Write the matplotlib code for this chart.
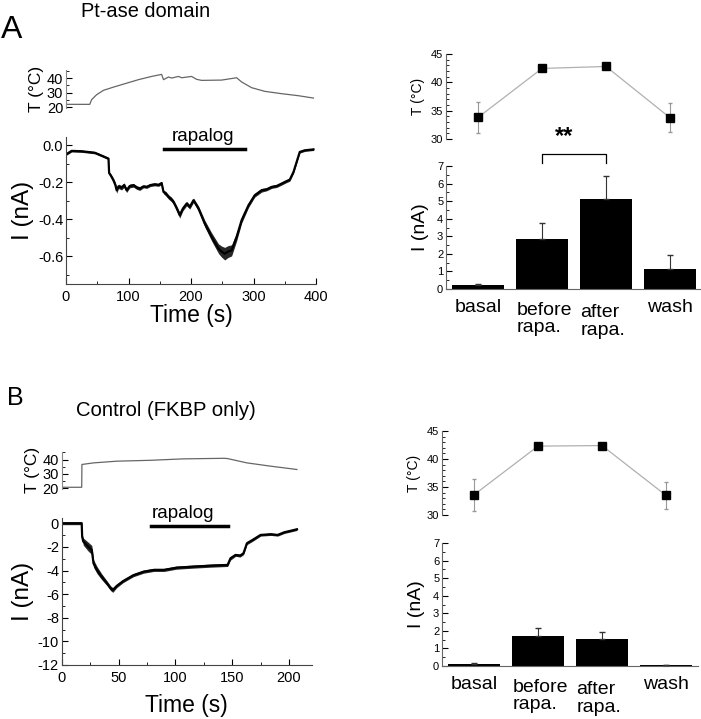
import matplotlib
matplotlib.use("Agg")
import matplotlib.pyplot as plt
from matplotlib.ticker import MultipleLocator, FormatStrFormatter
import numpy as np

plt.rcParams['font.family'] = ['Liberation Sans', 'DejaVu Sans']
plt.rcParams['axes.unicode_minus'] = False

# ---------------- data ----------------
# Panel A traces
tA_T = [0, 38, 41, 49, 60, 76, 94, 116, 137, 153, 156, 164, 169, 180, 185, 201, 209, 217, 249, 273, 281, 297, 318, 345, 372, 396]
TA = [22.0, 22.0, 25.2, 28.6, 31.6, 33.8, 36.1, 38.9, 41.1, 42.5, 38.9, 40.7, 40.0, 41.1, 40.2, 41.1, 39.1, 38.4, 38.6, 40.2, 37.3, 33.4, 30.9, 29.3, 27.9, 26.3]

tA_I = [0, 9, 25, 46, 60, 68, 69, 72, 76, 79, 81, 84, 89, 93, 97, 102, 108, 113, 118, 124, 129, 135, 142, 148, 153, 156, 160, 164, 168, 172, 177, 182, 187, 193, 198, 204, 212, 222, 233, 244, 249, 254, 259, 265, 273, 281, 292, 302, 313, 321, 329, 337, 345, 352, 358, 364, 369, 374, 382, 396]
IA = [-0.049, -0.030, -0.032, -0.040, -0.060, -0.072, -0.150, -0.165, -0.190, -0.215, -0.243, -0.222, -0.229, -0.215, -0.243, -0.220, -0.216, -0.228, -0.234, -0.222, -0.225, -0.215, -0.211, -0.214, -0.204, -0.252, -0.262, -0.279, -0.290, -0.306, -0.340, -0.378, -0.342, -0.315, -0.333, -0.297, -0.342, -0.423, -0.495, -0.559, -0.575, -0.586, -0.575, -0.568, -0.495, -0.405, -0.324, -0.270, -0.243, -0.238, -0.225, -0.220, -0.207, -0.195, -0.186, -0.144, -0.090, -0.036, -0.027, -0.022]
IA_noise = [0.006, 0.006, 0.006, 0.006, 0.006, 0.006, 0.008, 0.010, 0.012, 0.014, 0.016, 0.012, 0.012, 0.012, 0.012, 0.010, 0.010, 0.010, 0.010, 0.008, 0.008, 0.008, 0.008, 0.008, 0.008, 0.010, 0.012, 0.012, 0.012, 0.012, 0.014, 0.016, 0.012, 0.012, 0.012, 0.012, 0.014, 0.018, 0.022, 0.026, 0.030, 0.034, 0.032, 0.030, 0.022, 0.016, 0.012, 0.010, 0.010, 0.008, 0.008, 0.008, 0.008, 0.008, 0.008, 0.008, 0.008, 0.006, 0.006, 0.006]

# Panel B traces
tB_T = [0, 17.6, 17.8, 28, 48.5, 78, 107, 143, 146, 163, 184, 207]
TB = [20.7, 20.7, 36.6, 37.7, 38.9, 39.5, 40.5, 40.9, 40.7, 37.7, 35.4, 33.1]

tB_I = [0, 17.6, 18, 19, 23.5, 26.5, 28, 31, 35, 40, 43, 45, 48.5, 54, 63, 72, 81, 90, 101, 116, 131, 146, 148.5, 153, 157, 160, 163, 168, 175, 184, 190, 196, 201, 207]
IB = [0, 0, -1.13, -1.55, -2.0, -2.26, -3.4, -3.95, -4.5, -5.1, -5.5, -5.65, -5.3, -4.9, -4.4, -4.1, -3.95, -3.95, -3.76, -3.67, -3.59, -3.53, -2.97, -2.68, -2.74, -2.54, -1.69, -1.41, -0.99, -0.93, -0.99, -0.76, -0.65, -0.51]
IB_noise = [0.12, 0.12, 0.2, 0.3, 0.38, 0.38, 0.32, 0.3, 0.25, 0.2, 0.2, 0.2, 0.15, 0.13, 0.13, 0.13, 0.13, 0.13, 0.13, 0.13, 0.13, 0.13, 0.15, 0.12, 0.12, 0.12, 0.12, 0.12, 0.1, 0.1, 0.1, 0.1, 0.1, 0.1]

rapalog_A = [156, 286]
rapalog_B = [79, 146]

# Summary panels
categories = ['basal', 'before\nrapa.', 'after\nrapa.', 'wash']
TA_mean = [33.8, 42.45, 42.8, 33.75]
TA_err = [2.7, 0.4, 0.35, 2.6]
IA_mean = [0.22, 2.85, 5.15, 1.13]
IA_err = [0.08, 0.92, 1.28, 0.80]

TB_mean = [33.6, 42.3, 42.4, 33.5]
TB_err = [2.8, 0.5, 0.5, 2.4]
IB_mean = [0.10, 1.72, 1.52, 0.05]
IB_err = [0.07, 0.45, 0.42, 0.02]

# ---------------- figure ----------------
W, H = 701, 719
fig = plt.figure(figsize=(W / 100, H / 100), dpi=100)


def ax_px(x0, y0, x1, y1):
    return fig.add_axes([x0 / W, 1 - y1 / H, (x1 - x0) / W, (y1 - y0) / H])


def style_ticks(ax, fs):
    ax.tick_params(which='major', direction='in', length=4, width=0.8, labelsize=fs, pad=2)
    ax.tick_params(which='minor', direction='in', length=2, width=0.6)


def trace_T(ax, t, T, xmax):
    ax.plot(t, T, color='#666666', lw=0.9)
    ax.set_xlim(0, xmax)
    ax.set_ylim(19.5, 45.5)
    for s in ['top', 'right', 'bottom']:
        ax.spines[s].set_visible(False)
    ax.spines['left'].set_color('#888888')
    ax.set_xticks([])
    ax.set_yticks([20, 30, 40])
    ax.yaxis.set_minor_locator(MultipleLocator(5))
    style_ticks(ax, 10.5)
    ax.set_ylabel('T (°C)', fontsize=12.5, labelpad=2)


def trace_I(ax, t, I, noise):
    t = np.asarray(t); I = np.asarray(I); n = np.asarray(noise)
    ax.fill_between(t, I - n, I + n, color='black', lw=0, alpha=0.85)
    ax.plot(t, I, color='black', lw=1.6)
    for s in ['top', 'right']:
        ax.spines[s].set_visible(False)
    for s in ['left', 'bottom']:
        ax.spines[s].set_color('#444444')
    style_ticks(ax, 10.5)
    ax.tick_params(axis='x', pad=4)


# ---- Panel A, traces ----
axAT = ax_px(66, 70, 316, 108)
trace_T(axAT, tA_T, TA, 400)

axAI = ax_px(66, 137, 316, 284)
trace_I(axAI, tA_I, IA, IA_noise)
axAI.set_xlim(0, 400)
axAI.set_ylim(-0.75, 0.045)
axAI.set_xticks([0, 100, 200, 300, 400])
axAI.xaxis.set_minor_locator(MultipleLocator(50))
axAI.set_yticks([0.0, -0.2, -0.4, -0.6])
axAI.yaxis.set_major_formatter(FormatStrFormatter('%.1f'))
axAI.yaxis.set_minor_locator(MultipleLocator(0.1))
axAI.set_xlabel('Time (s)', fontsize=16.5, labelpad=0)
axAI.set_ylabel('I (nA)', fontsize=17.5, labelpad=3)
axAI.plot(rapalog_A, [-0.018, -0.018], color='black', lw=2.5, clip_on=False)
axAI.text(219, 0.022, 'rapalog', fontsize=13.5, ha='center', va='baseline')

# ---- Panel B, traces ----
axBT = ax_px(61.7, 451.7, 311.7, 489)
trace_T(axBT, tB_T, TB, 220)

axBI = ax_px(61.7, 517.7, 311.7, 665)
trace_I(axBI, tB_I, IB, IB_noise)
axBI.set_xlim(0, 220)
axBI.set_ylim(-12, 0.47)
axBI.set_xticks([0, 50, 100, 150, 200])
axBI.xaxis.set_minor_locator(MultipleLocator(25))
axBI.set_yticks([0, -2, -4, -6, -8, -10, -12])
axBI.yaxis.set_minor_locator(MultipleLocator(1))
axBI.set_xlabel('Time (s)', fontsize=16.5, labelpad=7)
axBI.set_ylabel('I (nA)', fontsize=17.5, labelpad=3)
axBI.plot(rapalog_B, [-0.2, -0.2], color='black', lw=2.5, clip_on=False)
axBI.text(107, 0.45, 'rapalog', fontsize=13.5, ha='center', va='baseline')


# ---- Summary panels ----
def summary(T_mean, T_err, I_mean, I_err, x0, yT0, yT1, yI0, yI1):
    x = np.arange(1, len(categories) + 1)
    axT = ax_px(x0, yT0, x0 + 256, yT1)
    axT.plot(x, T_mean, color='#b0b0b0', lw=0.9, zorder=1)
    axT.errorbar(x, T_mean, yerr=T_err, fmt='none', ecolor='#999999', elinewidth=0.8,
                 capsize=1.5, zorder=2, clip_on=False)
    axT.plot(x, T_mean, 's', color='black', ms=5.5, zorder=3, clip_on=False)
    axT.set_xlim(0.5, 4.5)
    axT.set_ylim(30, 45)
    for s in ['top', 'right', 'bottom']:
        axT.spines[s].set_visible(False)
    axT.spines['left'].set_color('#666666')
    axT.set_xticks([])
    axT.set_yticks([30, 35, 40, 45])
    axT.yaxis.set_minor_locator(MultipleLocator(1))
    style_ticks(axT, 8)
    axT.set_ylabel('T (°C)', fontsize=10, labelpad=4)

    axI = ax_px(x0, yI0, x0 + 256, yI1)
    axI.bar(x, I_mean, width=0.8, color='black', zorder=2)
    axI.errorbar(x, I_mean, yerr=[np.zeros(len(I_err)), I_err], fmt='none', ecolor='#333333',
                 elinewidth=0.8, capsize=2.5, zorder=3)
    axI.set_xlim(0.5, 4.5)
    axI.set_ylim(0, 7)
    for s in ['top', 'right']:
        axI.spines[s].set_visible(False)
    axI.spines['left'].set_color('#666666')
    axI.spines['bottom'].set_color('#666666')
    axI.set_xticks([])
    axI.set_yticks(range(0, 8))
    axI.yaxis.set_minor_locator(MultipleLocator(0.5))
    style_ticks(axI, 8)
    axI.set_ylabel('I (nA)', fontsize=14, labelpad=6)
    # category labels
    lab_pos = [(1, 'center'), (1.6, 'left'), (2.6, 'left'), (4, 'center')]
    for (xp, ha), lab, dy in zip(lab_pos, categories, [0, -2, -4, 0]):
        axI.annotate(lab, xy=(xp, 0), xycoords='data', xytext=(0, -7 + dy),
                     textcoords='offset points', ha=ha, va='top', fontsize=14,
                     linespacing=1.05, annotation_clip=False)
    return axT, axI


axAT2, axAI2 = summary(TA_mean, TA_err, IA_mean, IA_err, 446, 54, 139, 166, 289)
axBT2, axBI2 = summary(TB_mean, TB_err, IB_mean, IB_err, 442, 431, 515, 543, 666)

# significance bracket panel A
axAI2.plot([2, 2, 3, 3], [7.16, 7.67, 7.67, 7.16], color='black', lw=0.9, clip_on=False)
axAI2.text(2.35, 8.3, '**', fontsize=17, fontweight='bold', ha='center', va='baseline')

# panel letters and titles
fig.text(0.5 / W, 1 - 38 / H, 'A', fontsize=23, ha='left', va='baseline')
fig.text(81 / W, 1 - 17 / H, 'Pt-ase domain', fontsize=14.4, ha='left', va='baseline')
fig.text(7 / W, 1 - 405 / H, 'B', fontsize=18, ha='left', va='baseline')
fig.text(76 / W, 1 - 416 / H, 'Control (FKBP only)', fontsize=14.6, ha='left', va='baseline')

fig.savefig('out.png', dpi=100)
